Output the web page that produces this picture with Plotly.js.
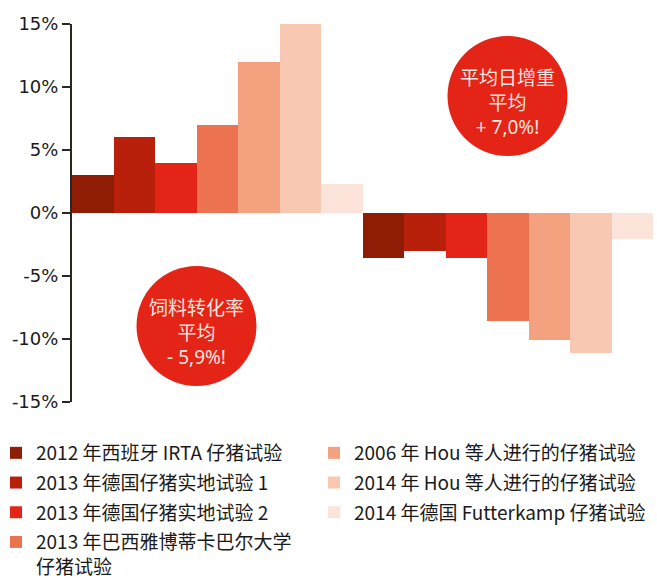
<!DOCTYPE html>
<html>
<head>
<meta charset="utf-8">
<script src="https://cdn.plot.ly/plotly-3.0.1.min.js"></script>
<style>html,body{margin:0;padding:0;background:#fff;}#chart{width:657px;height:584px;}</style>
</head>
<body>
<div id="chart"></div>
<script>
// Data
const groups = ['平均日增重', '饲料转化率'];
const seriesNames = [
  '2012 年西班牙 IRTA 仔猪试验',
  '2013 年德国仔猪实地试验 1',
  '2013 年德国仔猪实地试验 2',
  '2013 年巴西雅博蒂卡巴尔大学<br>仔猪试验',
  '2006 年 Hou 等人进行的仔猪试验',
  '2014 年 Hou 等人进行的仔猪试验',
  '2014 年德国 Futterkamp 仔猪试验'
];
const s1 = [3.0, -3.6];
const s2 = [6.0, -3.0];
const s3 = [4.0, -3.6];
const s4 = [7.0, -8.6];
const s5 = [12.0, -10.1];
const s6 = [15.0, -11.1];
const s7 = [2.3, -2.1];
const seriesValues = [s1, s2, s3, s4, s5, s6, s7];
const tickVals = [15, 10, 5, 0, -5, -10, -15];
const tickText = ['15%', '10%', '5%', '0%', '-5%', '-10%', '-15%'];
const circleTexts = ['平均日增重<br>平均<br>+ 7,0%!', '饲料转化率<br>平均<br>- 5,9%!'];

const colors = ['#8f1c04', '#b8200c', '#e32417', '#ed7350', '#f4a180', '#f9c8b2', '#fde4da'];
const ranks = [1, 3, 5, 7, 2, 4, 6];
const legendWidths = [273, 273, 273, 273, 294, 294, 294];

const font = "'Noto Sans', 'Noto Sans CJK SC', sans-serif";
const legendFont = "'Noto Sans CJK SC', 'Noto Sans', sans-serif";
const tickFontFamily = "'DejaVu Sans', 'Noto Sans', sans-serif";

const traces = seriesValues.map((vals, i) => ({
  type: 'bar',
  name: seriesNames[i],
  x: groups,
  y: vals,
  marker: {color: colors[i], line: {width: 0}},
  legendrank: ranks[i],
  legendgroup: 'g' + i,
  legendwidth: legendWidths[i],
  hoverinfo: 'skip'
}));

const W = 585, H = 378; // plot area px (bars occupy 72..653)
const unitPx = 290.5;   // px per category slot
const R = 60;
const c1 = {x: (507.5 - 72) / W, y: (402 - 96) / H};
const c2 = {x: (196.5 - 72) / W, y: (402 - 326) / H};
const rx = R / W, ry = R / H;

const layout = {
  width: 657, height: 584,
  margin: {l: 72, r: 0, t: 24, b: 182, pad: 0, autoexpand: false},
  paper_bgcolor: '#ffffff', plot_bgcolor: '#ffffff',
  font: {family: font, size: 19, color: '#1a1a1a'},
  barmode: 'group', bargap: 0, bargroupgap: 0,
  showlegend: true,
  xaxis: {range: [-0.5, -0.5 + W / unitPx], showticklabels: false, showline: false, ticks: '',
          showgrid: false, zeroline: false, fixedrange: true},
  yaxis: {
    range: [-15, 15], tickmode: 'array', tickvals: tickVals, ticktext: tickText,
    showline: true, linecolor: '#2d2723', linewidth: 2,
    ticks: 'outside', ticklen: 8, tickwidth: 2, tickcolor: '#2d2723',
    showgrid: false, zeroline: false,
    tickfont: {family: tickFontFamily, size: 18, color: '#1a1a1a'}
  },
  legend: {
    orientation: 'h', x: -76 / W, xanchor: 'left', y: -(434 - 402) / H, yanchor: 'top',
    valign: 'top', traceorder: 'grouped', tracegroupgap: 2,
    font: {family: legendFont, size: 19, color: '#1a1a1a'},
    bgcolor: 'rgba(0,0,0,0)'
  },
  shapes: [
    {type: 'circle', xref: 'paper', yref: 'paper', x0: c1.x - rx, x1: c1.x + rx, y0: c1.y - ry, y1: c1.y + ry,
     fillcolor: '#e32417', line: {width: 0}, layer: 'above'},
    {type: 'circle', xref: 'paper', yref: 'paper', x0: c2.x - rx, x1: c2.x + rx, y0: c2.y - ry, y1: c2.y + ry,
     fillcolor: '#e32417', line: {width: 0}, layer: 'above'}
  ],
  annotations: [
    {xref: 'paper', yref: 'paper', x: c1.x, y: c1.y - 7 / H, xanchor: 'center', yanchor: 'middle',
     text: circleTexts[0], showarrow: false,
     font: {family: font, size: 19, color: '#fde6df'}, align: 'center'},
    {xref: 'paper', yref: 'paper', x: c2.x, y: c2.y - 6 / H, xanchor: 'center', yanchor: 'middle',
     text: circleTexts[1], showarrow: false,
     font: {family: font, size: 19, color: '#fde6df'}, align: 'center'}
  ]
};

Plotly.newPlot('chart', traces, layout, {displayModeBar: false, staticPlot: true});
</script>
</body>
</html>
